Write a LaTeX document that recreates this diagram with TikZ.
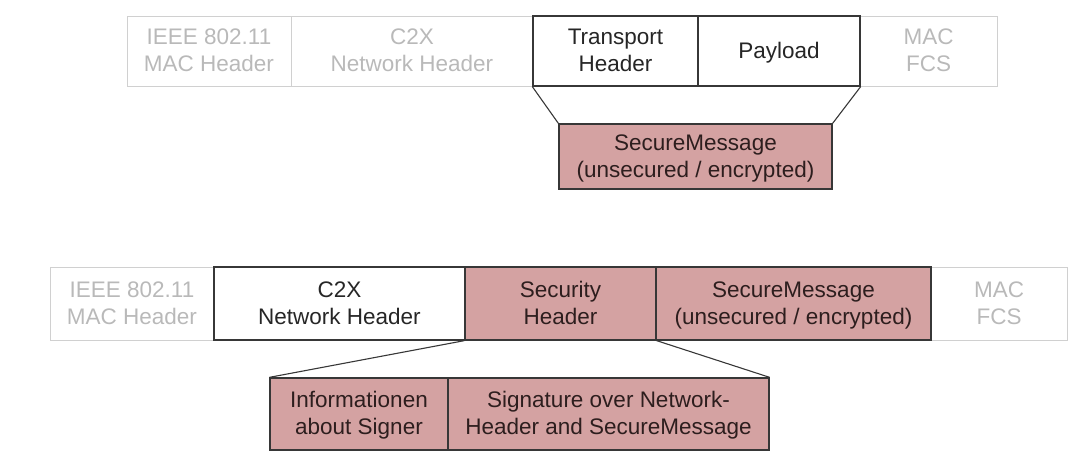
\documentclass[tikz,border=0pt]{standalone}
\usepackage{fontspec}
\setmainfont{Liberation Sans}
\definecolor{lightline}{RGB}{208,208,208}
\definecolor{lighttext}{RGB}{185,185,185}
\definecolor{pinkfill}{RGB}{212,162,162}
\definecolor{darktext}{RGB}{45,30,30}
\definecolor{edge}{RGB}{55,55,55}
\newcommand\firststrut{\rule{0pt}{22.4pt}}
\tikzset{
  field/.style={rectangle, inner sep=0pt, align=center, font=\fontsize{22.5}{27}\selectfont},
  greyfield/.style={field, draw=lightline, line width=1pt, text=lighttext},
  plainfield/.style={field, draw=edge, line width=1.3pt, fill=white, text=black!85},
  secfield/.style={field, draw=edge, line width=1.3pt, fill=pinkfill, text=darktext},
  zoomline/.style={draw=edge, line width=1.1pt}
}
\begin{document}
\begin{tikzpicture}[x=1pt,y=-1pt]
\useasboundingbox (0,0) rectangle (1080,455);
% top row
\node[greyfield, minimum width=164pt, minimum height=70pt] (mac1) at (209,51) {\firststrut IEEE 802.11\strut\\MAC Header\strut};
\node[greyfield, minimum width=242pt, minimum height=70pt] (c2x1) at (412,51) {\firststrut C2X\strut\\Network Header\strut};
\node[greyfield, minimum width=137pt, minimum height=70pt] (fcs1) at (928.5,51) {\firststrut MAC\strut\\FCS\strut};
\node[plainfield, minimum width=165pt, minimum height=70pt] (tr) at (615.5,51) {\firststrut Transport\strut\\Header\strut};
\node[plainfield, minimum width=162pt, minimum height=70pt] (pay) at (779,51) {\firststrut Payload\strut};
\node[secfield, minimum width=273pt, minimum height=65pt] (sm1) at (695.5,156.5) {\firststrut SecureMessage\strut\\(unsecured / encrypted)\strut};
\draw[zoomline] (tr.south west) -- (sm1.north west);
\draw[zoomline] (pay.south east) -- (sm1.north east);
% bottom row
\node[greyfield, minimum width=164pt, minimum height=73pt] (mac2) at (132,303.5) {\firststrut IEEE 802.11\strut\\MAC Header\strut};
\node[greyfield, minimum width=136pt, minimum height=73pt] (fcs2) at (999,303.5) {\firststrut MAC\strut\\FCS\strut};
\node[plainfield, minimum width=251pt, minimum height=73pt] (c2x2) at (339.5,303.5) {\firststrut C2X\strut\\Network Header\strut};
\node[secfield, minimum width=191pt, minimum height=73pt] (sec) at (560.5,303.5) {\firststrut Security\strut\\Header\strut};
\node[secfield, minimum width=275pt, minimum height=73pt] (sm2) at (793.5,303.5) {\firststrut SecureMessage\strut\\(unsecured / encrypted)\strut};
\node[secfield, minimum width=178pt, minimum height=72pt] (info) at (359,414) {\firststrut Informationen\strut\\about Signer\strut};
\node[secfield, minimum width=321pt, minimum height=72pt] (sig) at (608.5,414) {\firststrut Signature over Network-\strut\\Header and SecureMessage\strut};
\draw[zoomline] (sec.south west) -- (info.north west);
\draw[zoomline] (sec.south east) -- (sig.north east);
\end{tikzpicture}
\end{document}
